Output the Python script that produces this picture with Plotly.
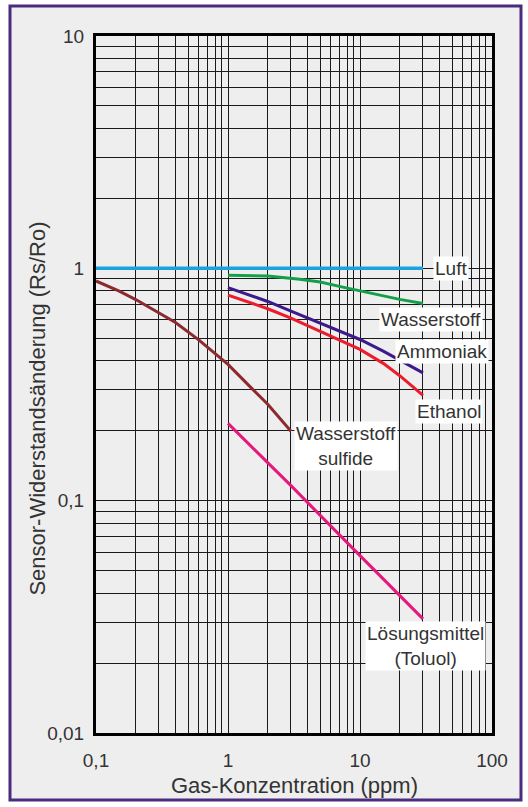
import math
import plotly.graph_objects as go

# Gas concentration (ppm) vs. sensor resistance ratio Rs/Ro
luft_x = [0.1, 30]
luft_y = [1.0, 1.0]

h2_x = [1, 2, 3.5, 5, 7.4, 11, 15, 20, 30]
h2_y = [0.933, 0.926, 0.897, 0.873, 0.83, 0.79, 0.762, 0.735, 0.705]

nh3_x = [1, 2, 3, 5, 7, 10, 15, 20, 30]
nh3_y = [0.826, 0.72, 0.655, 0.581, 0.539, 0.494, 0.44, 0.402, 0.355]

ethanol_x = [1, 2, 3, 5, 7, 10, 15, 20, 30]
ethanol_y = [0.767, 0.67, 0.61, 0.535, 0.492, 0.448, 0.39, 0.345, 0.284]

h2s_x = [0.1, 0.15, 0.2, 0.3, 0.4, 0.6, 0.8, 1, 1.5, 2, 3]
h2s_y = [0.882, 0.798, 0.734, 0.645, 0.585, 0.492, 0.427, 0.386, 0.306, 0.26, 0.199]

toluol_x = [1, 3, 10, 30]
toluol_y = [0.215, 0.116, 0.058, 0.031]

x_decades = [0.1, 1, 10, 100]
x_decade_labels = ["0,1", "1", "10", "100"]
y_decades = [0.01, 0.1, 1, 10]
y_decade_labels = ["0,01", "0,1", "1", "10"]

FONT = "Liberation Sans, Arial, sans-serif"
TEXT = "#333333"


def grid_values(decades):
    """Every 1..9 step inside each decade, used as grid/tick positions."""
    vals = []
    for d in decades[:-1]:
        for m in range(1, 10):
            vals.append(round(d * m, 6))
    vals.append(decades[-1])
    return vals


def grid_labels(vals, decades, labels):
    lab = dict(zip(decades, labels))
    return [lab.get(v, "") for v in vals]


xv = grid_values(x_decades)
yv = grid_values(y_decades)

series = [
    (luft_x, luft_y, "#1ba3e0", 3.5),
    (h2_x, h2_y, "#14a04a", 3),
    (nh3_x, nh3_y, "#3d1a8c", 3),
    (ethanol_x, ethanol_y, "#ec1c2c", 3),
    (h2s_x, h2s_y, "#8b2b2f", 3),
    (toluol_x, toluol_y, "#e6177d", 3),
]

fig = go.Figure()
for x, y, color, w in series:
    fig.add_trace(go.Scatter(x=x, y=y, mode="lines",
                             line=dict(color=color, width=w, shape="linear"),
                             showlegend=False, hoverinfo="skip"))

# curve labels on white boxes (log axes take log10 positions)
labels = [
    ("Luft", 48.6, 1.0),
    ("Wasserstoff", 34.5, 0.603),
    ("Ammoniak", 41.8, 0.438),
    ("Ethanol", 47.2, 0.242),
    ("Wasserstoff<br>sulfide", 7.83, 0.172),
    ("Lösungsmittel<br>(Toluol)", 31.6, 0.0236),
]
for text, lx, ly in labels:
    fig.add_annotation(x=math.log10(lx), y=math.log10(ly), xref="x", yref="y",
                       text=text, showarrow=False, bgcolor="white", borderpad=1,
                       font=dict(family=FONT, size=19, color=TEXT),
                       xanchor="center", yanchor="middle")

# axis titles
fig.add_annotation(x=0.5, y=-0.075, xref="paper", yref="paper",
                   text="Gas-Konzentration (ppm)", showarrow=False,
                   font=dict(family=FONT, size=22, color=TEXT),
                   xanchor="center", yanchor="middle")
fig.add_annotation(x=-0.148, y=0.466, xref="paper", yref="paper",
                   text="Sensor-Widerstandsänderung (Rs/Ro)", showarrow=False,
                   textangle=-90,
                   font=dict(family=FONT, size=22, color=TEXT),
                   xanchor="center", yanchor="middle")

# outer frame
fig.add_shape(type="rect", xref="paper", yref="paper",
              x0=-0.2172, x1=1.0732, y0=-0.0961, y1=1.043,
              line=dict(color="#4a2c7e", width=3), fillcolor="#eeeeee", layer="below")

axis_common = dict(type="log", showgrid=True, gridcolor="#1a1a1a", gridwidth=1,
                   showline=True, linecolor="black", linewidth=3, mirror=True,
                   zeroline=False, ticks="",
                   tickfont=dict(family=FONT, size=19, color=TEXT))

fig.update_xaxes(range=[-1, 2], tickvals=xv, ticktext=grid_labels(xv, x_decades, x_decade_labels),
                 ticklabelstandoff=8, **axis_common)
fig.update_yaxes(range=[-2, 1], tickvals=yv, ticktext=grid_labels(yv, y_decades, y_decade_labels),
                 ticklabelstandoff=5, **axis_common)

fig.update_layout(width=528, height=807,
                  margin=dict(l=96, r=36, t=36, b=74),
                  paper_bgcolor="white", plot_bgcolor="#fffcec",
                  font=dict(family=FONT, color=TEXT))

fig.write_html("out.html")
